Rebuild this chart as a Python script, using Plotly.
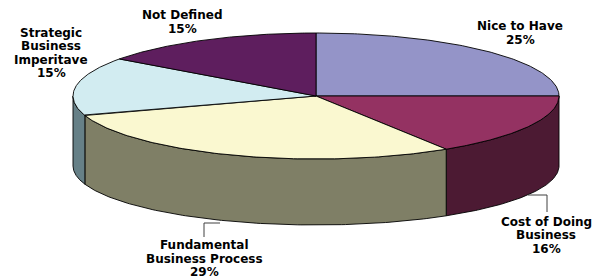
import numpy as np
import plotly.graph_objects as go

# ---- data ----
categories = ["Nice to Have", "Cost of Doing Business", "Fundamental Business Process",
              "Strategic Business Imperitave", "Not Defined"]
label_lines = [["Nice to Have"], ["Cost of Doing", "Business"], ["Fundamental", "Business Process"],
               ["Strategic", "Business", "Imperitave"], ["Not Defined"]]
values = [25, 16, 29, 15, 15]

# ---- styles ----
top_colors = ["#9494C8", "#943262", "#FAF8D0", "#D2ECF1", "#5E1E5E"]
side_colors = ["#4A4A64", "#4C1A33", "#7F7F66", "#668087", "#2F0F2F"]

# ---- geometry (pixel space of the 597x280 canvas) ----
W, H = 597, 280
cx, a = 316, 243
cy_top, b_top = 96, 63
cy_bot, b_bot = 166, 59

def arc(t0, t1, cy, b, n=120):
    t = np.radians(np.linspace(t0, t1, n))
    return cx + a * np.cos(t), cy - b * np.sin(t)

fig = go.Figure()

total = sum(values)
starts, ends = [], []
s = 90.0
for v in values:
    e = s - 360.0 * v / total
    starts.append(s)
    ends.append(e)
    s = e

# side walls (front half only: angle in [-180, 0])
for i, v in enumerate(values):
    lo = max(ends[i], -180.0)
    hi = min(starts[i], 0.0)
    if hi <= lo:
        continue
    xt, yt = arc(hi, lo, cy_top, b_top)
    xb, yb = arc(lo, hi, cy_bot, b_bot)
    xs = np.concatenate([xt, xb, xt[:1]])
    ys = np.concatenate([yt, yb, yt[:1]])
    fig.add_trace(go.Scatter(x=xs, y=ys, mode="lines", fill="toself",
                             fillcolor=side_colors[i],
                             line=dict(color="black", width=0.9),
                             hoverinfo="skip", showlegend=False))

# top faces
for i, v in enumerate(values):
    xt, yt = arc(starts[i], ends[i], cy_top, b_top)
    xs = np.concatenate([[cx], xt, [cx]])
    ys = np.concatenate([[cy_top], yt, [cy_top]])
    fig.add_trace(go.Scatter(x=xs, y=ys, mode="lines", fill="toself",
                             fillcolor=top_colors[i],
                             line=dict(color="black", width=0.9),
                             name=categories[i],
                             hoverinfo="name", showlegend=False))

# labels (one annotation per line for tight line spacing)
label_pos = [(520, 33), (546, 235), (204, 258.5), (51, 53), (182, 22)]
line_h = 13.5
for i, v in enumerate(values):
    pct = round(100.0 * v / total)
    lines = label_lines[i] + [f"{pct}%"]
    n = len(lines)
    for k, t in enumerate(lines):
        y = label_pos[i][1] + (k - (n - 1) / 2.0) * line_h
        fig.add_annotation(x=label_pos[i][0], y=y, text=t,
                           showarrow=False, xanchor="center", yanchor="middle",
                           font=dict(family="Verdana, DejaVu Sans", size=12,
                                     color="black", weight="bold"))

# leader lines
lc = dict(color="#404040", width=1)
fig.add_shape(type="path", path="M 220 223 L 204 223 L 204 237", line=lc)
fig.add_shape(type="path", path="M 528 195 L 547 195 L 547 212", line=lc)

fig.update_layout(width=W, height=H, margin=dict(l=0, r=0, t=0, b=0),
                  paper_bgcolor="white", plot_bgcolor="white",
                  xaxis=dict(range=[0, W], visible=False, fixedrange=True),
                  yaxis=dict(range=[H, 0], visible=False, fixedrange=True))

fig.write_html("out.html", config={"displayModeBar": False},
               post_script="document.body.style.margin='0';document.body.style.overflow='hidden';")
